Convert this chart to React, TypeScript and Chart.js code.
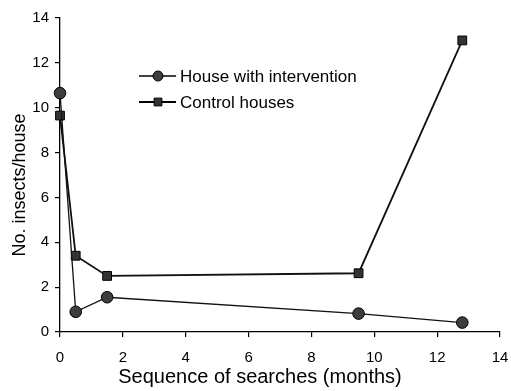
import React, { useEffect, useRef } from "react";
import { Chart, registerables } from "chart.js";

Chart.register(...registerables);

const months = [0, 0.5, 1.5, 9.5, 12.8];
const intervention = [10.65, 0.9, 1.55, 0.82, 0.42];
const control = [9.65, 3.4, 2.5, 2.62, 13.0];
const seriesLabels = ["House with intervention", "Control houses"];
const xTitle = "Sequence of searches (months)";
const yTitle = "No. insects/house";

const FONT = "'Liberation Sans', Arial, sans-serif";

function drawMarker(ctx: CanvasRenderingContext2D, style: string, x: number, y: number, r: number, fill: string) {
  ctx.save();
  ctx.fillStyle = fill;
  ctx.strokeStyle = "#000";
  ctx.lineWidth = 1;
  ctx.beginPath();
  if (style === "circle") {
    ctx.arc(x, y, r, 0, Math.PI * 2);
  } else {
    const s = r * Math.SQRT1_2;
    ctx.rect(x - s, y - s, 2 * s, 2 * s);
  }
  ctx.fill();
  ctx.stroke();
  ctx.restore();
}

const customPlugin = {
  id: "customDecor",
  afterDraw(chart: any) {
    const ctx: CanvasRenderingContext2D = chart.ctx;
    const area = chart.chartArea;
    // legend
    const rows = [area.top + 58, area.top + 84];
    chart.data.datasets.forEach((ds: any, i: number) => {
      const y = rows[i];
      const x0 = area.left + 79;
      ctx.save();
      ctx.strokeStyle = "#000";
      ctx.lineWidth = ds.borderWidth;
      ctx.beginPath();
      ctx.moveTo(x0, y);
      ctx.lineTo(x0 + 37, y);
      ctx.stroke();
      ctx.restore();
      drawMarker(ctx, ds.pointStyle, x0 + 19, y, ds.pointStyle === "circle" ? 5 : 5.5, ds.pointBackgroundColor);
      ctx.save();
      ctx.fillStyle = "#000";
      ctx.font = `17px ${FONT}`;
      ctx.textBaseline = "middle";
      ctx.textAlign = "left";
      ctx.fillText(ds.label, x0 + 41, y + 1);
      ctx.restore();
    });
    // axis titles
    ctx.save();
    ctx.fillStyle = "#000";
    ctx.font = `20px ${FONT}`;
    ctx.textAlign = "center";
    ctx.textBaseline = "alphabetic";
    ctx.fillText(xTitle, 260, 383);
    ctx.translate(25, 185);
    ctx.rotate(-Math.PI / 2);
    ctx.font = `18px ${FONT}`;
    ctx.fillText(yTitle, 0, 0);
    ctx.restore();
  },
};

export default function App() {
  const ref = useRef<HTMLCanvasElement | null>(null);
  useEffect(() => {
    if (!ref.current) return;
    const chart = new Chart(ref.current, {
      type: "line",
      data: {
        datasets: [
          {
            label: seriesLabels[0],
            data: months.map((m, i) => ({ x: m, y: intervention[i] })),
            borderColor: "#111",
            borderWidth: 1.3,
            pointStyle: "circle",
            pointRadius: 5.8,
            pointBackgroundColor: "#3d3d3d",
            pointBorderColor: "#000",
            pointBorderWidth: 1,
            tension: 0,
            clip: false as any,
          },
          {
            label: seriesLabels[1],
            data: months.map((m, i) => ({ x: m, y: control[i] })),
            borderColor: "#111",
            borderWidth: 1.8,
            pointStyle: "rect",
            pointRadius: 6.2,
            pointBackgroundColor: "#333",
            pointBorderColor: "#000",
            pointBorderWidth: 1,
            tension: 0,
            clip: false as any,
          },
        ],
      },
      options: {
        animation: false,
        responsive: true,
        maintainAspectRatio: false,
        layout: { padding: { left: 0, top: 18, right: 11, bottom: 0 } },
        plugins: { legend: { display: false }, tooltip: { enabled: false } },
        scales: {
          x: {
            type: "linear",
            min: 0,
            max: 14,
            afterFit: (s: any) => {
              s.height = 59;
              s.paddingLeft = 0;
              s.paddingRight = 0;
            },
            ticks: { stepSize: 2, color: "#000", font: { family: FONT, size: 15 }, padding: 12 },
            grid: { drawOnChartArea: false, drawTicks: true, tickLength: 5, color: "#000", lineWidth: 1.2 },
            border: { display: true, color: "#000", width: 1.3 },
          },
          y: {
            type: "linear",
            min: 0,
            max: 14,
            afterFit: (s: any) => {
              s.width = 60;
              s.paddingTop = 0;
              s.paddingBottom = 0;
            },
            ticks: { stepSize: 2, color: "#000", font: { family: FONT, size: 15 }, padding: 6 },
            grid: { drawOnChartArea: false, drawTicks: true, tickLength: 5, color: "#000", lineWidth: 1.2 },
            border: { display: true, color: "#000", width: 1.3 },
          },
        },
      },
      plugins: [customPlugin],
    });
    return () => chart.destroy();
  }, []);
  return (
    <div style={{ position: "absolute", left: 0, top: 0, width: 511, height: 391, background: "#fff" }}>
      <canvas ref={ref} />
    </div>
  );
}
